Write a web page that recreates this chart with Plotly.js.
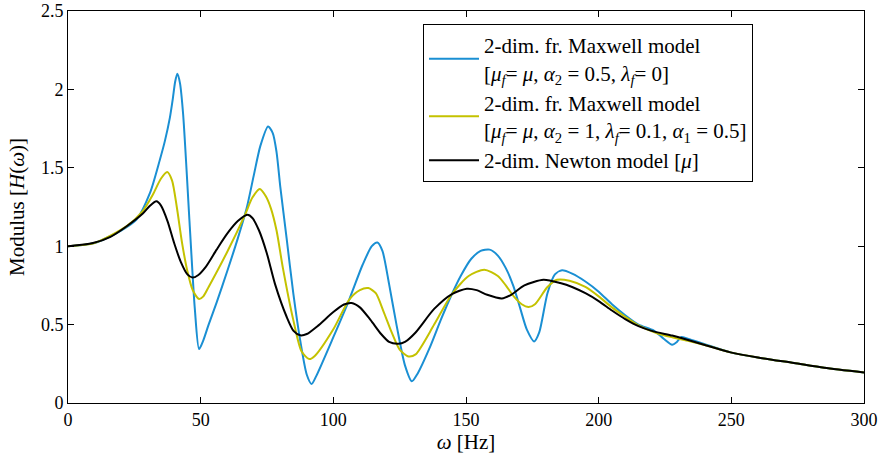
<!DOCTYPE html>
<html>
<head>
<meta charset="utf-8">
<script src="https://cdn.plot.ly/plotly-3.0.1.min.js"></script>
<style>html,body{margin:0;padding:0;background:#fff;}#chart{width:880px;height:458px;}</style>
</head>
<body>
<div id="chart"></div>
<script>
// Blue: 2-dim. fr. Maxwell model [mu_f = mu, alpha2 = 0.5, lambda_f = 0]
const blueX = [0,10,20,25.8,30.9,34.6,36.5,38.4,39.5,40.4,41.2,42.2,43.4,45.9,47.8,49.4,51,53,56,60,64,67.3,70,72.5,75.4,77.2,78.6,80,82.4,84.9,87.5,90,91.8,93.5,100,106,111,114.5,116.6,118.5,121,123.9,127,129.6,131.5,136.5,140.5,144.7,148,152,155.5,158.9,162,165,167.9,170.5,172.9,175.7,177.6,180.7,183.5,186.2,190,195,200,205,210,215,220.8,224.5,227.7,229.5,231.2,234.5,240,249.7,260,273.6,285,300];
const blueY = [1.0,1.02,1.10,1.17,1.34,1.55,1.67,1.82,1.94,2.05,2.10,2.04,1.84,1.126,0.60,0.344,0.40,0.50,0.64,0.84,1.05,1.24,1.45,1.64,1.764,1.72,1.60,1.38,1.05,0.70,0.40,0.18,0.121,0.17,0.42,0.66,0.88,1.0,1.024,0.97,0.76,0.49,0.24,0.138,0.18,0.36,0.53,0.695,0.81,0.92,0.97,0.978,0.94,0.86,0.744,0.60,0.47,0.393,0.45,0.70,0.82,0.846,0.825,0.775,0.71,0.63,0.56,0.50,0.462,0.41,0.372,0.39,0.421,0.405,0.375,0.323,0.29,0.255,0.225,0.195];

// Yellow: 2-dim. fr. Maxwell model [mu_f = mu, alpha2 = 1, lambda_f = 0.1, alpha1 = 0.5]
const yellowX = [0,10,22,28,32,35,37.4,39.2,41,43,45,47,49.4,51,53,59.8,66.7,69.5,72.3,74.5,76.5,78.6,81,84.9,88,90.9,93,100,106,110,113.2,116,119,122,125,128.3,131,138,144.7,151,156.9,162,165,168,171,173.6,176,180.7,184.3,189,195,200,205,210,215,222,228,234,240,249.7,260,273.6,285,300];
const yellowY = [1.0,1.02,1.126,1.22,1.33,1.43,1.473,1.42,1.25,1.02,0.84,0.72,0.663,0.68,0.74,0.957,1.20,1.31,1.365,1.32,1.24,1.10,0.86,0.53,0.33,0.28,0.30,0.47,0.66,0.72,0.733,0.70,0.58,0.45,0.34,0.297,0.31,0.50,0.695,0.81,0.85,0.81,0.75,0.68,0.63,0.612,0.63,0.74,0.786,0.78,0.74,0.68,0.61,0.55,0.495,0.445,0.418,0.395,0.37,0.323,0.29,0.255,0.225,0.195];

// Black: 2-dim. Newton model [mu]
const blackX = [0,9.4,16,22,28.3,31,33.3,35,37.5,40,42.5,45,46.9,49,52,56,60,64,67.6,69.5,72,74.9,78,82.4,85,87.5,90,94,100,104,106.9,110,114,118,121,124.5,127,131,138,144.7,150.3,154,158,163.5,167,172,179.2,185.5,190,195,200,205,210,215,220,227.7,232.1,240,249.7,260,273.6,285,300];
const blackY = [1.0,1.02,1.06,1.126,1.21,1.26,1.286,1.26,1.16,1.02,0.90,0.82,0.80,0.815,0.87,0.978,1.08,1.16,1.20,1.18,1.10,0.957,0.76,0.55,0.46,0.432,0.44,0.49,0.58,0.628,0.638,0.61,0.53,0.44,0.39,0.378,0.39,0.45,0.60,0.695,0.729,0.72,0.69,0.667,0.69,0.75,0.786,0.765,0.74,0.70,0.65,0.59,0.535,0.49,0.46,0.43,0.41,0.37,0.323,0.29,0.255,0.225,0.195];

const xTicks = [0,50,100,150,200,250,300];
const xTickLabels = ['0','50','100','150','200','250','300'];
const yTicks = [0,0.5,1,1.5,2,2.5];
const yTickLabels = ['0','0.5','1','1.5','2','2.5'];

const seriesNames = [
  '2-dim. fr. Maxwell model<br>[<i>μ</i><sub><i>f</i></sub>= <i>μ</i>, <i>α</i><sub>2</sub> = 0.5, <i>λ</i><sub><i>f</i></sub>= 0]',
  '2-dim. fr. Maxwell model<br>[<i>μ</i><sub><i>f</i></sub>= <i>μ</i>, <i>α</i><sub>2</sub> = 1, <i>λ</i><sub><i>f</i></sub>= 0.1, <i>α</i><sub>1</sub> = 0.5]',
  '2-dim. Newton model [<i>μ</i>]'
];

const font = 'Liberation Serif, Times New Roman, serif';
const lineStyle = (c) => ({color: c, width: 2, shape: 'spline', smoothing: 0.7});
const traces = [
  {x: blueX, y: blueY, name: seriesNames[0], mode: 'lines', line: lineStyle('#1a8fd3')},
  {x: yellowX, y: yellowY, name: seriesNames[1], mode: 'lines', line: lineStyle('#c4c200')},
  {x: blackX, y: blackY, name: seriesNames[2], mode: 'lines', line: lineStyle('#000000')}
];

const axisCommon = {
  showline: true, linecolor: '#000', linewidth: 1, mirror: 'ticks',
  ticks: 'inside', ticklen: 6, tickcolor: '#000', tickwidth: 1,
  showgrid: false, zeroline: false, automargin: false,
  tickfont: {family: font, size: 18, color: '#000'}
};

const layout = {
  width: 880, height: 458,
  margin: {l: 68, r: 16, t: 11, b: 55},
  paper_bgcolor: '#fff', plot_bgcolor: '#fff',
  font: {family: font, color: '#000'},
  showlegend: true,
  legend: {
    x: 0.446, y: 0.967, xanchor: 'left', yanchor: 'top',
    bgcolor: '#fff', bordercolor: '#000', borderwidth: 1,
    font: {family: font, size: 21, color: '#000'},
    itemwidth: 50, tracegroupgap: 0, valign: 'middle'
  },
  xaxis: Object.assign({}, axisCommon, {
    range: [0, 300], tickvals: xTicks, ticktext: xTickLabels,
    title: {text: '<i>ω</i> [Hz]', font: {family: font, size: 21, color: '#000'}, standoff: 4}
  }),
  yaxis: Object.assign({}, axisCommon, {
    range: [0, 2.5], tickvals: yTicks, ticktext: yTickLabels,
    title: {text: 'Modulus [<i>H</i>(<i>ω</i>)]', font: {family: font, size: 21, color: '#000'}, standoff: 10}
  })
};

Plotly.newPlot('chart', traces, layout, {staticPlot: true, displayModeBar: false}).then(function (gd) {
  // lengthen legend line samples to match the reference
  gd.querySelectorAll('.legend .legendlines path').forEach(function (p) {
    p.setAttribute('d', 'M5,0h50');
  });
});
</script>
</body>
</html>
